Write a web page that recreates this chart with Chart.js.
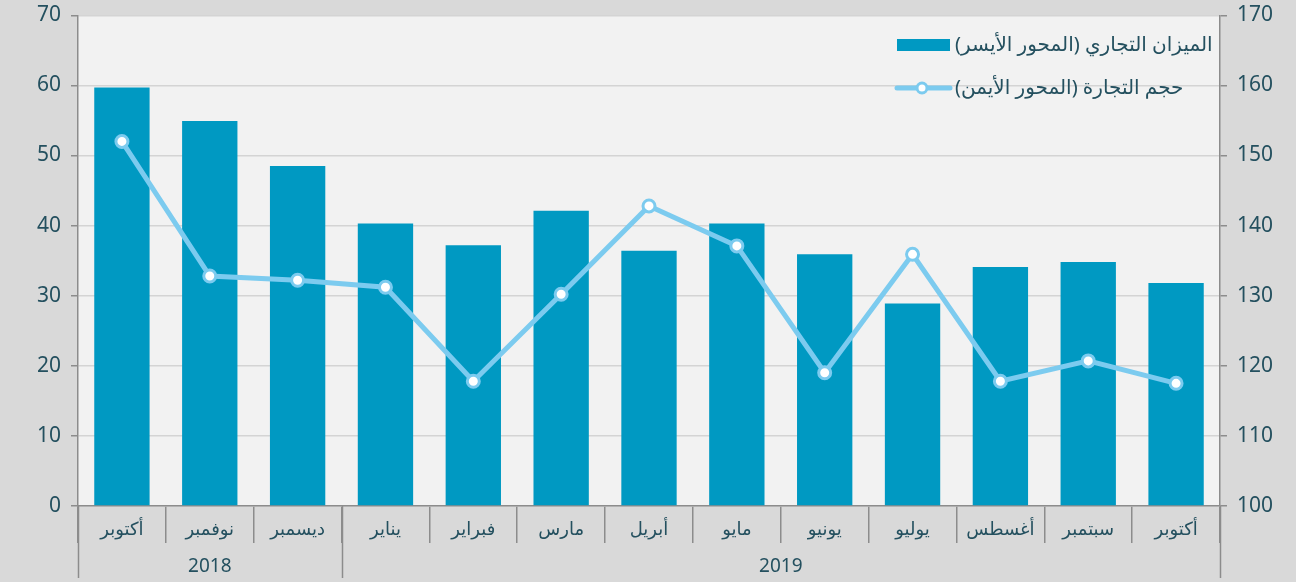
<!DOCTYPE html>
<html lang="ar">
<head>
  <meta charset="UTF-8">
  <title>الميزان التجاري وحجم التجارة</title>
  <script src="https://cdn.jsdelivr.net/npm/chart.js"></script>
  <style>
    html, body { margin: 0; padding: 0; background: #d9d9d9; }
    .chart-box { width: 1296px; height: 582px; }
  </style>
</head>
<body>
<div class="chart-box"><canvas id="tradeChart"></canvas></div>
<script>
const months = ['أكتوبر', 'نوفمبر', 'ديسمبر', 'يناير', 'فبراير', 'مارس', 'أبريل', 'مايو', 'يونيو', 'يوليو', 'أغسطس', 'سبتمبر', 'أكتوبر'];
const yearLabels = ['2018', '2019'];
const yearSpans = [3, 10];
const tradeBalance = [59.7, 54.9, 48.5, 40.3, 37.2, 42.1, 36.4, 40.3, 35.9, 28.9, 34.1, 34.8, 31.8];
const tradeVolume = [152.0, 132.8, 132.2, 131.2, 117.8, 130.2, 142.8, 137.1, 119.0, 135.9, 117.8, 120.7, 117.5];
const balanceLabel = 'الميزان التجاري (المحور الأيسر)';
const volumeLabel = 'حجم التجارة (المحور الأيمن)';

const textColor = '#24505f';
const axisGray = '#8c8c8c';
const barColor = '#0099c2';
const lineColor = '#7ccbef';
const fontFamily = '"Noto Sans", "DejaVu Sans", sans-serif';

// fond gris clair de la zone de tracé
const plotBg = {
  id: 'plotBg',
  beforeDraw(chart) {
    const { ctx, chartArea: a } = chart;
    ctx.save();
    ctx.fillStyle = '#f2f2f2';
    ctx.fillRect(a.left, a.top, a.right - a.left, a.bottom - a.top);
    ctx.restore();
  }
};

// années + longs séparateurs sous l'axe des x
const yearGroups = {
  id: 'yearGroups',
  afterDraw(chart) {
    const { ctx } = chart;
    const x = chart.scales.x;
    const half = (x.getPixelForValue(1) - x.getPixelForValue(0)) / 2;
    const top = x.top;
    const bottom = chart.height - 4;
    ctx.save();
    ctx.strokeStyle = axisGray;
    ctx.lineWidth = 1.5;
    ctx.fillStyle = textColor;
    ctx.font = '19px ' + fontFamily;
    ctx.textAlign = 'center';
    ctx.textBaseline = 'middle';
    let start = 0;
    const edges = [x.getPixelForValue(0) - half];
    yearSpans.forEach((span, i) => {
      const left = x.getPixelForValue(start) - half;
      const right = x.getPixelForValue(start + span - 1) + half;
      edges.push(right);
      ctx.fillText(yearLabels[i], (left + right) / 2, 567);
      start += span;
    });
    edges.forEach(px => {
      ctx.beginPath();
      ctx.moveTo(Math.round(px) + 0.5, top);
      ctx.lineTo(Math.round(px) + 0.5, bottom);
      ctx.stroke();
    });
    ctx.restore();
  }
};

// légende dans la zone de tracé, en haut à droite
const insideLegend = {
  id: 'insideLegend',
  afterDraw(chart) {
    const { ctx } = chart;
    ctx.save();
    ctx.fillStyle = barColor;
    ctx.fillRect(897, 39, 53, 12);
    ctx.strokeStyle = lineColor;
    ctx.lineWidth = 5;
    ctx.lineCap = 'round';
    ctx.beginPath();
    ctx.moveTo(897, 88);
    ctx.lineTo(950, 88);
    ctx.stroke();
    ctx.beginPath();
    ctx.arc(922, 88, 5, 0, Math.PI * 2);
    ctx.fillStyle = '#ffffff';
    ctx.fill();
    ctx.lineWidth = 3;
    ctx.stroke();
    ctx.fillStyle = textColor;
    ctx.font = '20px ' + fontFamily;
    ctx.direction = 'rtl';
    ctx.textAlign = 'left';
    ctx.textBaseline = 'middle';
    ctx.fillText(balanceLabel, 955, 45);
    ctx.fillText(volumeLabel, 955, 88);
    ctx.restore();
  }
};

new Chart(document.getElementById('tradeChart'), {
  data: {
    labels: months,
    datasets: [
      {
        type: 'line',
        label: volumeLabel,
        data: tradeVolume,
        yAxisID: 'y1',
        borderColor: lineColor,
        borderWidth: 5,
        pointRadius: 6,
        pointBorderWidth: 3,
        pointBackgroundColor: '#ffffff',
        pointBorderColor: lineColor,
        tension: 0,
        order: 0
      },
      {
        type: 'bar',
        label: balanceLabel,
        data: tradeBalance,
        yAxisID: 'y',
        backgroundColor: barColor,
        barPercentage: 0.63,
        categoryPercentage: 1,
        order: 1
      }
    ]
  },
  options: {
    responsive: true,
    maintainAspectRatio: false,
    animation: false,
    layout: { padding: { top: 15, left: 0, right: 0, bottom: 0 } },
    plugins: {
      legend: { display: false },
      tooltip: { enabled: false }
    },
    scales: {
      x: {
        grid: { offset: true, drawOnChartArea: false, tickLength: 37, color: axisGray, lineWidth: 1.5 },
        border: { color: axisGray, width: 1.5 },
        ticks: { color: textColor, font: { size: 18, family: fontFamily }, padding: -24, maxRotation: 0 },
        afterFit(scale) { scale.height = 76; }
      },
      y: {
        position: 'left',
        min: 0, max: 70,
        ticks: { stepSize: 10, color: textColor, font: { size: 21, family: fontFamily, lineHeight: 0.5 }, padding: 10 },
        grid: { color: '#d4d4d4', lineWidth: 1.5, tickColor: axisGray, tickLength: 7 },
        border: { color: axisGray, width: 1.5 },
        afterFit(scale) { scale.width = 78; }
      },
      y1: {
        position: 'right',
        min: 100, max: 170,
        ticks: { stepSize: 10, color: textColor, font: { size: 21, family: fontFamily, lineHeight: 0.5 }, padding: 10 },
        grid: { drawOnChartArea: false, tickColor: axisGray, tickLength: 7, lineWidth: 1.5 },
        border: { color: axisGray, width: 1.5 },
        afterFit(scale) { scale.width = 76; }
      }
    }
  },
  plugins: [plotBg, yearGroups, insideLegend]
});
</script>
</body>
</html>
